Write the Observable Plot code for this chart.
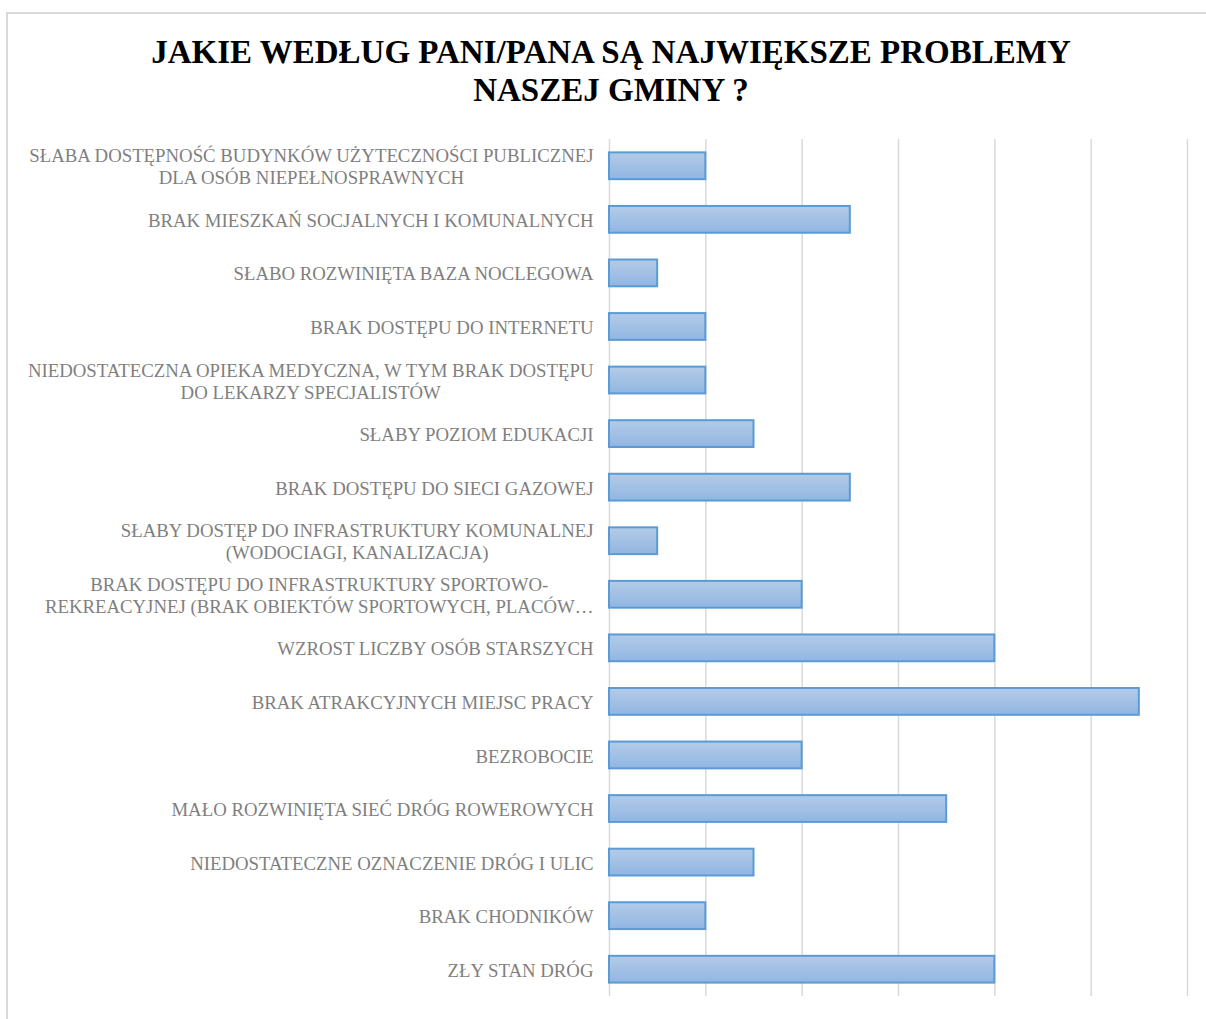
<!DOCTYPE html>
<html>
<head>
<meta charset="utf-8">
<script src="https://cdn.jsdelivr.net/npm/d3@7"></script>
<script src="https://cdn.jsdelivr.net/npm/@observablehq/plot@0.6"></script>
<style>
  html, body { margin: 0; padding: 0; background: #fff; overflow: hidden; }
  #frame {
    position: absolute; left: 6px; top: 12px; width: 1210px; height: 1030px;
    border: 2px solid #d9d9d9; box-sizing: border-box; background: #fff;
  }
  #title {
    height: 106px; box-sizing: border-box; padding-top: 19px;
    text-align: center; font-family: 'Liberation Serif', 'DejaVu Serif', serif;
    font-weight: bold; font-size: 33px; line-height: 38px; color: #000;
  }
  #chart svg { display: block; }
</style>
</head>
<body>
<div id="frame">
  <div id="title">JAKIE WEDŁUG PANI/PANA SĄ NAJWIĘKSZE PROBLEMY<br>NASZEJ GMINY ?</div>
  <div id="chart"></div>
</div>
<script>
const categories = [
  "SŁABA DOSTĘPNOŚĆ BUDYNKÓW UŻYTECZNOŚCI PUBLICZNEJ\nDLA OSÓB NIEPEŁNOSPRAWNYCH",
  "BRAK MIESZKAŃ SOCJALNYCH I KOMUNALNYCH",
  "SŁABO ROZWINIĘTA BAZA NOCLEGOWA",
  "BRAK DOSTĘPU DO INTERNETU",
  "NIEDOSTATECZNA OPIEKA MEDYCZNA, W TYM BRAK DOSTĘPU\nDO LEKARZY SPECJALISTÓW",
  "SŁABY POZIOM EDUKACJI",
  "BRAK DOSTĘPU DO SIECI GAZOWEJ",
  "SŁABY DOSTĘP DO INFRASTRUKTURY KOMUNALNEJ\n(WODOCIAGI, KANALIZACJA)",
  "BRAK DOSTĘPU DO INFRASTRUKTURY SPORTOWO-\nREKREACYJNEJ (BRAK OBIEKTÓW SPORTOWYCH, PLACÓW…",
  "WZROST LICZBY OSÓB STARSZYCH",
  "BRAK ATRAKCYJNYCH MIEJSC PRACY",
  "BEZROBOCIE",
  "MAŁO ROZWINIĘTA SIEĆ DRÓG ROWEROWYCH",
  "NIEDOSTATECZNE OZNACZENIE DRÓG I ULIC",
  "BRAK CHODNIKÓW",
  "ZŁY STAN DRÓG"
];
const values = [2, 5, 1, 2, 2, 3, 5, 1, 4, 8, 11, 4, 7, 3, 2, 8];
const gridTicks = [0, 2, 4, 6, 8, 10, 12];

const data = categories.map((c, i) => ({category: c, value: values[i]}));

const chart = Plot.plot({
  width: 1206,
  height: 899,
  marginLeft: 601,
  marginRight: 27,
  marginTop: 19,
  marginBottom: 23,
  style: {background: "transparent", fontFamily: "'Liberation Serif', 'DejaVu Serif', serif"},
  x: {domain: [0, 12], axis: null},
  y: {domain: categories, paddingInner: 0.5, paddingOuter: 0.25, round: false, axis: null},
  marks: [
    Plot.ruleX(gridTicks, {stroke: "#d9d9d9", strokeWidth: 1.5}),
    Plot.barX(data, {x: "value", y: "category", fill: "url(#barGrad)", stroke: "#5b9bd5", strokeWidth: 2}),
    Plot.text(data, {x: 0, y: "category", text: "category", textAnchor: "end", dx: -16, fill: "#7f7f7f", fontSize: 18.8, lineHeight: 1.17, className: "cat-labels"})
  ]
});

const defs = d3.select(chart).insert("defs", ":first-child");
const grad = defs.append("linearGradient").attr("id", "barGrad").attr("x1", 0).attr("y1", 0).attr("x2", 0).attr("y2", 1);
grad.append("stop").attr("offset", "0%").attr("stop-color", "#b3cbe8");
grad.append("stop").attr("offset", "100%").attr("stop-color", "#91b6e2");

document.getElementById("chart").appendChild(chart);

// Multi-line labels: right-aligned as a block, lines centred within the block
d3.select(chart).selectAll("text").each(function() {
  const spans = this.querySelectorAll("tspan");
  if (spans.length < 2) return;
  let maxW = 0;
  spans.forEach(s => { maxW = Math.max(maxW, s.getComputedTextLength()); });
  this.setAttribute("text-anchor", "middle");
  const t = this.getAttribute("transform") || "";
  this.setAttribute("transform", t + ` translate(${-maxW / 2},0)`);
});
</script>
</body>
</html>
